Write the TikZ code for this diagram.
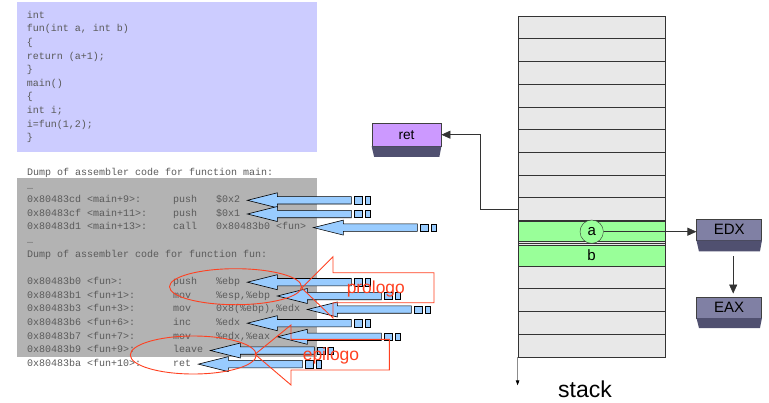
\documentclass[tikz,border=0pt]{standalone}
\usepackage{fontspec}
\setmainfont{Liberation Sans}
\setmonofont{Liberation Mono}
\usetikzlibrary{arrows.meta}

\definecolor{codebg}{HTML}{CCCCFF}
\definecolor{dumpbg}{HTML}{B3B3B3}
\definecolor{codetxt}{HTML}{5A5A5A}
\definecolor{cellfill}{HTML}{E8E8E8}
\definecolor{slotgreen}{HTML}{99FF99}
\definecolor{arrowblue}{HTML}{99CCFF}
\definecolor{retfill}{HTML}{CC99FF}
\definecolor{regfill}{HTML}{8080A4}
\definecolor{regdark}{HTML}{505070}
\definecolor{redc}{HTML}{FF4020}

\tikzset{
  listing/.style={font=\ttfamily\fontsize{10}{12}\selectfont, text=codetxt, anchor=west,
    inner sep=0pt, text height=6.6pt, text depth=0pt},
  cell/.style={draw=black!80, fill=cellfill, line width=0.8pt, minimum width=147pt,
    minimum height=22.73pt, inner sep=0pt},
  slot/.style={cell, fill=slotgreen, font=\fontsize{15}{15}\selectfont},
  regbox/.style={draw=black!75, line width=0.5pt, inner sep=0pt, minimum width=65pt,
    minimum height=21pt, font=\fontsize{15}{15}\selectfont},
  regshadow/.style={fill=regdark},
  conn/.style={draw=black!80, line width=0.7pt, -{Triangle[length=9pt,width=8pt]}},
  stackline/.style={draw=black!45, line width=0.8pt,
    -{Triangle[length=5pt,width=3.5pt,color=black]}},
  blkarrow/.style={draw=black, fill=arrowblue, line width=0.6pt},
  redline/.style={draw=redc, line width=0.9pt},
  redlbl/.style={text=redc, inner sep=0pt, anchor=base},
  blk/.pic={
    \filldraw[blkarrow] (0,0) -- (30,-7.5) -- (30,-3.7) -- (104,-3.7) -- (104,3.7)
      -- (30,3.7) -- (30,7.5) -- cycle;
    \filldraw[blkarrow] (106.5,-3.7) rectangle (115,3.7);
    \filldraw[blkarrow] (118.3,-3.7) rectangle (122.5,3.7);
  }
}

\begin{document}
\begin{tikzpicture}[x=1pt,y=-1pt]
  \useasboundingbox (0,0) rectangle (769,402);

  % source code
  \fill[codebg] (16.7,1.7) rectangle (317.3,151.7);
  \foreach \t [count=\k from 0] in {int,{fun(int a, int b)},\{,{return (a+1);},\},main(),\{,{int i;},{i=fun(1,2);},\}}
    \node[listing] (src\k) at (26.7,{15+13.6*\k}) {\t};

  % assembler dump
  \fill[dumpbg] (16.7,178.3) rectangle (317,356.7);
  \node[listing] (dmain) at (27,172) {Dump of assembler code for function main:};
  \node[listing] (dots1) at (27,185.7) {…};
  \foreach \y/\nm/\adr/\ins/\opd in {
      199.3/cd/{0x80483cd <main+9>:}/push/\$0x2,
      213/cf/{0x80483cf <main+11>:}/push/\$0x1,
      226.6/d1/{0x80483d1 <main+13>:}/call/{0x80483b0 <fun>},
      281.2/b0/{0x80483b0 <fun>:}/push/\%ebp,
      295/b1/{0x80483b1 <fun+1>:}/mov/{\%esp,\%ebp},
      308.5/b3/{0x80483b3 <fun+3>:}/mov/{0x8(\%ebp),\%edx},
      322.2/b6/{0x80483b6 <fun+6>:}/inc/\%edx,
      335.8/b7/{0x80483b7 <fun+7>:}/mov/{\%edx,\%eax},
      349.5/b9/{0x80483b9 <fun+9>:}/leave/{},
      363.1/ba/{0x80483ba <fun+10>:}/ret/{}}
  {
    \node[listing] (ad\nm) at (27,\y) {\adr};
    \node[listing] (in\nm) at (173,\y) {\ins};
    \node[listing] (op\nm) at (216,\y) {\opd};
  }
  \node[listing] (dots2) at (27,240.3) {…};
  \node[listing] (dfun) at (27,254) {Dump of assembler code for function fun:};

  % block arrows
  \foreach \n in {cd,cf,d1,b0,b1,b3,b6,b7}
    \pic at ([xshift=7pt,yshift=-1pt]op\n.east) {blk};
  \foreach \n in {b9,ba}
    \pic at ([xshift=7pt,yshift=-1pt]in\n.east) {blk};

  % prologo / epilogo
  \draw[redline] (235.5,286.7) ellipse [x radius=66pt, y radius=18pt];
  \draw[redline] (193.3,355) ellipse [x radius=63pt, y radius=19pt];
  \draw[redline] (301.7,288) -- (333,256.7) -- (333,272.7) -- (434,272.7) -- (434,302.7)
    -- (333,302.7) -- (333,318) -- cycle;
  \draw[redline] (255,354.3) -- (291,325) -- (291,339.3) -- (389.3,339.3) -- (389.3,370)
    -- (291,370) -- (291,385) -- cycle;
  \node[redlbl, font=\fontsize{17.4}{18}\selectfont] (prol) at (375.8,293.5) {prologo};
  \node[redlbl, font=\fontsize{17.5}{18}\selectfont] (epil) at (331,360.7) {epilogo};

  % stack
  \foreach \i in {0,...,14}
    \node[cell] (row\i) at (591.5,{27.37+22.73*\i}) {};
  \node[slot, minimum height=20pt] (slota) at (591.5,231.7) {};
  \node[slot, minimum height=21pt] (slotb) at (591.5,255.5) {b};
  \node[circle, draw=black!80, fill=slotgreen, minimum size=23.4pt, inner sep=0pt,
    font=\fontsize{15}{15}\selectfont] (vara) at (591.7,231.7) {a};
  \draw[stackline] (row14.south west) -- ++(0,28);
  \node[anchor=base, inner sep=0pt, font=\fontsize{23}{24}\selectfont] (stacklbl) at (585,397.3) {stack};

  % registers
  \node[regbox, fill=retfill, minimum width=69.3pt, minimum height=22.7pt,
    font=\fontsize{13.7}{14}\selectfont] (ret) at (406.5,134.7) {ret};
  \fill[regshadow] (ret.south west) -- (ret.south east) -- ++(-2,10.5) -- ++(-65.3,0) -- cycle;
  \node[regbox, fill=regfill] (edx) at (729.2,229.7) {EDX};
  \fill[regshadow] (edx.south west) -- (edx.south east) -- ++(-2,11) -- ++(-61,0) -- cycle;
  \node[regbox, fill=regfill] (eax) at (729.2,307.3) {EAX};
  \fill[regshadow] (eax.south west) -- (eax.south east) -- ++(-2,10) -- ++(-61,0) -- cycle;

  % connectors
  \draw[conn] (row8.west) -- ++(-37,0) |- (ret.east);
  \draw[conn] (vara.east) -- (vara.east -| edx.west);
  \draw[conn] ([xshift=4pt,yshift=-16pt]edx.south) -- ([xshift=4pt,yshift=3pt]eax.north);
\end{tikzpicture}
\end{document}
